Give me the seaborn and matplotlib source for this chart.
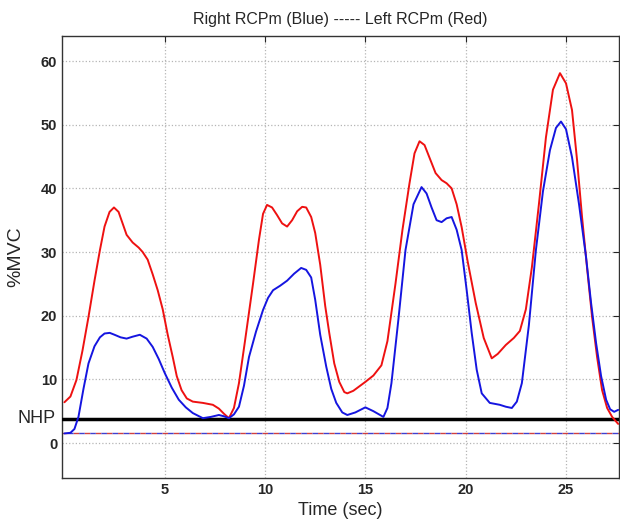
import pandas as pd
import seaborn as sns
import matplotlib.pyplot as plt

# Values (time in sec, %MVC)
red_t = [0, 0.3, 0.6, 0.9, 1.2, 1.5, 1.77, 2.0, 2.25, 2.47, 2.7, 2.9, 3.1, 3.4,
         3.7, 3.9, 4.15, 4.4, 4.65, 4.9, 5.15, 5.4, 5.6, 5.84, 6.1, 6.4, 6.9,
         7.4, 7.7, 7.95, 8.2, 8.45, 8.7, 9.0, 9.4, 9.7, 9.9, 10.1, 10.35, 10.6,
         10.85, 11.1, 11.35, 11.6, 11.85, 12.05, 12.3, 12.5, 12.75, 13.0, 13.2,
         13.45, 13.7, 13.95, 14.1, 14.4, 14.7, 15.0, 15.4, 15.8, 16.1, 16.5,
         16.85, 17.2, 17.45, 17.7, 17.95, 18.2, 18.5, 18.8, 19.05, 19.3, 19.55,
         19.8, 20.1, 20.5, 20.9, 21.3, 21.6, 22.0, 22.4, 22.7, 23.0, 23.3, 23.65,
         24.0, 24.35, 24.7, 25.0, 25.3, 25.55, 25.8, 26.05, 26.3, 26.55, 26.8,
         27.05, 27.3, 27.6]
red_v = [6.4, 7.3, 9.9, 14.5, 19.8, 25.5, 30.3, 34.0, 36.3, 37.0, 36.3, 34.5,
         32.7, 31.5, 30.7, 30.0, 28.8, 26.5, 24.0, 21.0, 17.0, 13.5, 10.5, 8.3,
         7.0, 6.5, 6.3, 6.0, 5.4, 4.6, 3.9, 5.5, 9.4, 16.0, 25.0, 32.0, 36.0,
         37.4, 37.0, 35.8, 34.5, 34.0, 35.0, 36.4, 37.1, 37.0, 35.5, 33.0, 28.0,
         21.5, 17.3, 12.5, 9.6, 8.0, 7.8, 8.2, 8.9, 9.6, 10.6, 12.2, 16.0, 25.0,
         33.5, 40.8, 45.5, 47.4, 46.8, 44.8, 42.4, 41.3, 40.8, 40.0, 37.5, 33.9,
         28.5, 22.0, 16.5, 13.3, 14.0, 15.4, 16.5, 17.6, 21.0, 27.6, 37.5, 48.0,
         55.5, 58.1, 56.5, 52.3, 44.5, 35.5, 27.5, 19.8, 13.5, 8.3, 5.5, 4.1, 3.0]

blue_t = [0, 0.3, 0.5, 0.7, 0.95, 1.2, 1.5, 1.77, 2.0, 2.26, 2.5, 2.8, 3.1, 3.4,
          3.76, 4.1, 4.4, 4.7, 5.0, 5.35, 5.7, 6.05, 6.4, 6.9, 7.3, 7.7, 7.95,
          8.2, 8.45, 8.7, 8.95, 9.2, 9.55, 9.9, 10.15, 10.4, 10.75, 11.1, 11.45,
          11.8, 12.05, 12.3, 12.5, 12.75, 13.05, 13.3, 13.55, 13.85, 14.1, 14.5,
          15.0, 15.4, 15.9, 16.1, 16.3, 16.65, 17.0, 17.4, 17.8, 18.05, 18.3,
          18.55, 18.8, 19.05, 19.3, 19.55, 19.8, 20.05, 20.3, 20.55, 20.8, 21.2,
          21.7, 22.0, 22.3, 22.55, 22.8, 23.15, 23.5, 23.85, 24.2, 24.5, 24.75,
          25.0, 25.3, 25.65, 26.0, 26.25, 26.5, 26.75, 27.0, 27.2, 27.4, 27.6]
blue_v = [1.5, 1.6, 2.2, 4.1, 8.5, 12.5, 15.2, 16.6, 17.2, 17.3, 17.0, 16.6,
          16.4, 16.7, 17.0, 16.4, 15.1, 13.2, 11.0, 8.7, 6.8, 5.6, 4.7, 3.9, 4.1,
          4.4, 4.2, 3.9, 4.5, 5.7, 9.0, 13.5, 17.5, 20.9, 22.8, 24.0, 24.7, 25.5,
          26.6, 27.5, 27.2, 26.0, 22.5, 17.0, 12.0, 8.5, 6.3, 4.8, 4.4, 4.8, 5.6,
          5.0, 4.1, 5.5, 9.4, 19.5, 30.3, 37.5, 40.2, 39.2, 37.0, 35.0, 34.7,
          35.3, 35.5, 33.5, 30.3, 24.0, 17.3, 11.5, 7.8, 6.3, 6.0, 5.7, 5.5, 6.5,
          9.4, 18.5, 30.3, 39.5, 46.0, 49.5, 50.5, 49.3, 44.9, 37.5, 29.2, 22.0,
          15.7, 10.5, 6.8, 5.3, 4.9, 5.2]

nhp_level = 3.8
base_level = 1.5
y_ticks = [0, 10, 20, 30, 40, 50, 60]
x_ticks = [5, 10, 15, 20, 25]

df = pd.concat([
    pd.DataFrame({"t": red_t, "v": red_v, "side": "Left"}),
    pd.DataFrame({"t": blue_t, "v": blue_v, "side": "Right"}),
])

sns.set_style("white")
plt.rcParams['font.family'] = ['Liberation Sans', 'DejaVu Sans']

fig = plt.figure(figsize=(6.2, 5.25), dpi=100)
ax = fig.add_axes([0.1, 0.0895, 0.898, 0.8415])

ax.grid(True, linestyle=':', color='#b5b5b5', linewidth=0.9)

# baseline dash-dot in mixed colours
ax.axhline(base_level, color='#d04040', linestyle=(0, (4, 4)), linewidth=1)
ax.axhline(base_level, color='#4040d0', linestyle=(4, (4, 4)), linewidth=1)
ax.axhline(nhp_level, color='black', linewidth=2.5, zorder=3)

sns.lineplot(data=df, x="t", y="v", hue="side", sort=False, estimator=None,
             palette={"Left": "#ee1111", "Right": "#1515e0"}, linewidth=1.4,
             legend=False, ax=ax, zorder=4)

ax.set_xlim(-0.12, 27.63)
ax.set_ylim(-5.5, 63.9)
ax.set_xticks(x_ticks)
ax.set_yticks(y_ticks)
ax.tick_params(direction='in', length=4, right=True, top=True, labelsize=10.5)
for lab in ax.get_xticklabels() + ax.get_yticklabels():
    lab.set_fontweight('bold')

ax.text(-0.012, nhp_level, "NHP", transform=ax.get_yaxis_transform(),
        ha='right', va='center', fontsize=13)

for s in ax.spines.values():
    s.set_color('#333333')
    s.set_linewidth(1)

ax.set_title("Right RCPm (Blue) ----- Left RCPm (Red)", fontsize=11.5, pad=9)
ax.set_xlabel("Time (sec)", fontsize=13, labelpad=4)
ax.set_ylabel("%MVC", fontsize=14, labelpad=12)

fig.savefig("out.png", dpi=100)
